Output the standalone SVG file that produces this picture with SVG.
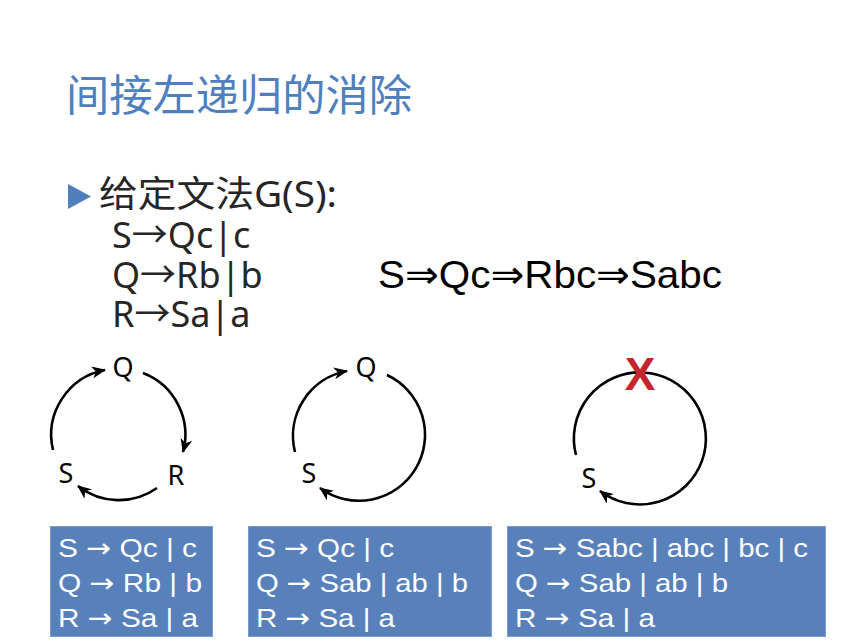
<svg xmlns="http://www.w3.org/2000/svg" width="858" height="644" viewBox="0 0 858 644">
<style>
.title{font-family:"Noto Sans CJK SC","Noto Sans",sans-serif;font-size:43px;fill:#4f7fbc}
.body{font-family:"Noto Sans","Noto Sans CJK SC",sans-serif;font-size:36px;fill:#262626}
.deriv{font-family:"Liberation Sans","DejaVu Sans",sans-serif;font-size:39px;fill:#000}
.dj{font-family:"DejaVu Sans",sans-serif}
.lbl{font-family:"Noto Sans","Noto Sans CJK SC",sans-serif;font-size:27px;fill:#000}
.box rect{fill:#5880bb;stroke:#7a9bcc;stroke-width:1}
.box text{font-family:"Liberation Sans","DejaVu Sans",sans-serif;font-size:26px;fill:#fff}
.arc{fill:none;stroke:#000;stroke-width:2.6}
</style>
<defs>
<marker id="ah" viewBox="0 0 14 12" refX="13" refY="6" markerWidth="14" markerHeight="12" markerUnits="userSpaceOnUse" orient="auto">
<path d="M0,0 L14,6 L0,12 L4,6 z" fill="#000"/>
</marker>
</defs>
<text class="title" x="66" y="111" textLength="346" lengthAdjust="spacingAndGlyphs">间接左递归的消除</text>
<g id="grammar">
<path d="M68,184 L91,196.5 L68,209 z" fill="#4f7fbc"/>
<text class="body" x="99" y="207" textLength="238" lengthAdjust="spacingAndGlyphs">给定文法G(S):</text>
<text class="body"><tspan x="112" y="248">S→Qc|c</tspan><tspan x="112" y="288">Q→Rb|b</tspan><tspan x="112" y="327">R→Sa|a</tspan></text>
</g>
<g id="derivation">
<text class="deriv" x="378" y="288" textLength="344" lengthAdjust="spacingAndGlyphs">S<tspan class="dj">⇒</tspan>Qc<tspan class="dj">⇒</tspan>Rbc<tspan class="dj">⇒</tspan>Sabc</text>
</g>
<g id="connectors">
<path class="arc" d="M53,450 A66,66 0 0 1 105,370" marker-end="url(#ah)"/>
<path class="arc" d="M143,373 A66,66 0 0 1 183,452" marker-end="url(#ah)"/>
<path class="arc" d="M157,488 A66,66 0 0 1 78,486" marker-end="url(#ah)"/>
<path class="arc" d="M295,452 A66,66 0 0 1 347,371" marker-end="url(#ah)"/>
<path class="arc" d="M387,375 A66,66 0 1 1 320,488" marker-end="url(#ah)"/>
<path class="arc" d="M576,455 A66,66 0 1 1 600,491" marker-end="url(#ah)"/>
</g>
<g id="node-Q1"><text class="lbl" x="123" y="377" text-anchor="middle">Q</text></g>
<g id="node-S1"><text class="lbl" x="66" y="483" text-anchor="middle">S</text></g>
<g id="node-R1"><text class="lbl" x="176" y="485" text-anchor="middle">R</text></g>
<g id="node-Q2"><text class="lbl" x="366" y="377" text-anchor="middle">Q</text></g>
<g id="node-S2"><text class="lbl" x="309" y="483" text-anchor="middle">S</text></g>
<g id="node-S3"><text class="lbl" x="589" y="488" text-anchor="middle">S</text></g>
<g id="cross"><text x="640" y="390" text-anchor="middle" font-family="Liberation Sans, sans-serif" font-weight="bold" font-size="46" fill="#c1272d">X</text></g>
<g id="box1" class="box">
<rect x="50.5" y="526.5" width="162" height="110"/>
<text x="58" y="557" textLength="139" lengthAdjust="spacingAndGlyphs">S <tspan class="dj">→</tspan> Qc | c</text>
<text x="58" y="592" textLength="144" lengthAdjust="spacingAndGlyphs">Q <tspan class="dj">→</tspan> Rb | b</text>
<text x="58" y="627" textLength="140" lengthAdjust="spacingAndGlyphs">R <tspan class="dj">→</tspan> Sa | a</text>
</g>
<g id="box2" class="box">
<rect x="248.5" y="526.5" width="243" height="110"/>
<text x="256" y="557" textLength="138" lengthAdjust="spacingAndGlyphs">S <tspan class="dj">→</tspan> Qc | c</text>
<text x="256" y="592" textLength="212" lengthAdjust="spacingAndGlyphs">Q <tspan class="dj">→</tspan> Sab | ab | b</text>
<text x="256" y="627" textLength="139" lengthAdjust="spacingAndGlyphs">R <tspan class="dj">→</tspan> Sa | a</text>
</g>
<g id="box3" class="box">
<rect x="507.5" y="526.5" width="318" height="110"/>
<text x="515" y="557" textLength="293" lengthAdjust="spacingAndGlyphs">S <tspan class="dj">→</tspan> Sabc | abc | bc | c</text>
<text x="515" y="592" textLength="213" lengthAdjust="spacingAndGlyphs">Q <tspan class="dj">→</tspan> Sab | ab | b</text>
<text x="515" y="627" textLength="140" lengthAdjust="spacingAndGlyphs">R <tspan class="dj">→</tspan> Sa | a</text>
</g>
</svg>
